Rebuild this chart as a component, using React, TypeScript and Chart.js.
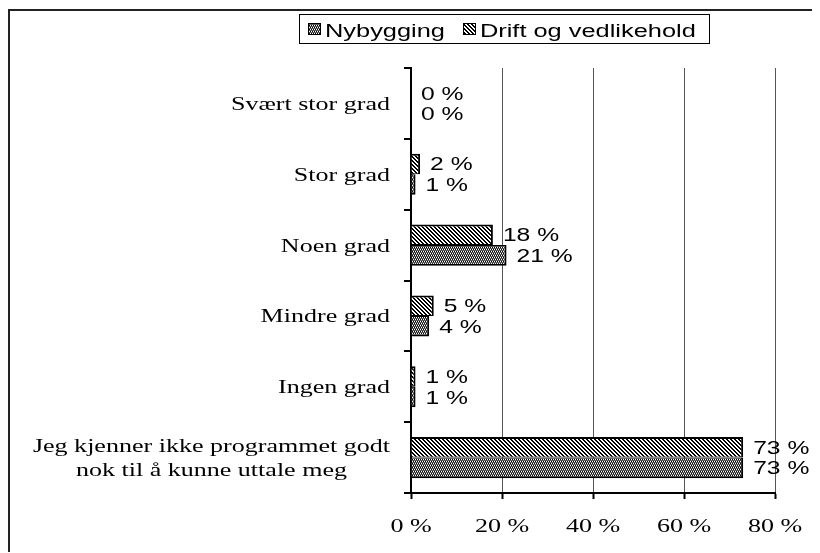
import { useEffect, useRef } from "react";
import { Chart, registerables } from "chart.js";

Chart.register(...registerables);

const categories: (string | string[])[] = [
  "Svært stor grad",
  "Stor grad",
  "Noen grad",
  "Mindre grad",
  "Ingen grad",
  ["Jeg kjenner ikke programmet godt", "nok til å kunne uttale meg"],
];
const nybyggingValues = [0, 1, 21, 4, 1, 73];
const driftValues = [0, 2, 18, 5, 1, 73];
const xTickValues = [0, 20, 40, 60, 80];
const seriesNames = ["Nybygging", "Drift og vedlikehold"];

const SX = 1.37;
const SX_LEGEND = 1.41;
const SANS = "18px 'Liberation Sans', Arial, sans-serif";
const SERIF = "19px 'Liberation Serif', 'Times New Roman', serif";

function makePattern(kind: "dots" | "hatch"): CanvasPattern | string {
  const c = document.createElement("canvas");
  c.width = 4;
  c.height = 4;
  const g = c.getContext("2d");
  if (!g) return "#777";
  g.fillStyle = "#fff";
  g.fillRect(0, 0, 4, 4);
  for (let y = 0; y < 4; y++) {
    for (let x = 0; x < 4; x++) {
      if (kind === "hatch") {
        const m = (((x - y) % 4) + 4) % 4;
        if (m === 0 || m === 1) {
          g.fillStyle = "#000";
          g.fillRect(x, y, 1, 1);
        }
      } else {
        if (y % 2 === 1) {
          g.fillStyle = "#5a5a5a";
          g.fillRect(x, y, 1, 1);
        } else if ((x + y / 2) % 2 === 0) {
          g.fillStyle = "#000";
          g.fillRect(x, y, 1, 1);
        }
      }
    }
  }
  const ctx = document.createElement("canvas").getContext("2d");
  const p = ctx ? ctx.createPattern(c, "repeat") : null;
  return p || "#777";
}

function drawText(
  ctx: CanvasRenderingContext2D,
  text: string,
  x: number,
  y: number,
  align: CanvasTextAlign,
  sx: number = SX
) {
  ctx.save();
  ctx.translate(x, y);
  ctx.scale(sx, 1);
  ctx.textAlign = align;
  ctx.textBaseline = "alphabetic";
  ctx.fillText(text, 0, 0);
  ctx.restore();
}

function textW(ctx: CanvasRenderingContext2D, text: string, sx: number = SX) {
  return ctx.measureText(text).width * sx;
}

export default function App() {
  const ref = useRef<HTMLCanvasElement | null>(null);

  useEffect(() => {
    const canvas = ref.current;
    if (!canvas) return;
    const dotPattern = makePattern("dots");
    const hatchPattern = makePattern("hatch");

    const textPlugin = {
      id: "customText",
      afterDatasetsDraw(chart: any) {
        const ctx: CanvasRenderingContext2D = chart.ctx;
        ctx.save();
        ctx.font = SANS;
        ctx.fillStyle = "#000";
        chart.data.datasets.forEach((ds: any, i: number) => {
          const meta = chart.getDatasetMeta(i);
          meta.data.forEach((el: any, j: number) => {
            const v = ds.data[j];
            drawText(ctx, `${v} %`, el.x + 10, el.y + 6.5, "left");
          });
        });
        ctx.restore();
      },
      afterDraw(chart: any) {
        const ctx: CanvasRenderingContext2D = chart.ctx;
        const area = chart.chartArea;
        const yScale = chart.scales.y;
        const xScale = chart.scales.x;
        ctx.save();
        ctx.fillStyle = "#000";
        // category labels
        ctx.font = SERIF;
        const rightX = area.left - 21;
        categories.forEach((lab, i) => {
          const lines = Array.isArray(lab) ? lab : [lab];
          const maxW = Math.max(...lines.map((l) => textW(ctx, l)));
          const cy = yScale.getPixelForValue(i);
          lines.forEach((l, k) => {
            const by = cy + 6.5 + (k - (lines.length - 1) / 2) * 24;
            drawText(ctx, l, rightX - maxW / 2, by, "center");
          });
        });
        // x tick labels
        xTickValues.forEach((v) => {
          const x = xScale.getPixelForValue(v);
          drawText(ctx, `${v} %`, x, area.bottom + 39, "center");
        });
        // legend
        ctx.font = SANS;
        const sq = 13;
        const padL = 9;
        const gap = 4;
        const between = 18;
        const padR = 13;
        const w0 = textW(ctx, seriesNames[0], SX_LEGEND);
        const w1 = textW(ctx, seriesNames[1], SX_LEGEND);
        const total = padL + sq + gap + w0 + between + sq + gap + w1 + padR;
        const cx = area.left + 92.5;
        const boxL = Math.round(cx - total / 2) + 0.5;
        const boxT = 3.5;
        const boxH = 29;
        ctx.strokeStyle = "#000";
        ctx.lineWidth = 1;
        ctx.strokeRect(boxL, boxT, Math.round(total), boxH);
        const fills = [dotPattern, hatchPattern];
        let x = boxL - 0.5 + padL;
        [w0, w1].forEach((w, i) => {
          ctx.fillStyle = fills[i] as any;
          ctx.fillRect(Math.round(x), 12, sq, 12);
          ctx.strokeStyle = "#000";
          ctx.strokeRect(Math.round(x) + 0.5, 12.5, sq - 1, 11);
          x += sq + gap;
          ctx.fillStyle = "#000";
          drawText(ctx, seriesNames[i], x, 25.5, "left", SX_LEGEND);
          x += w + between;
        });
        ctx.restore();
      },
    };

    const chart = new Chart(canvas, {
      type: "bar",
      data: {
        labels: categories as any,
        datasets: [
          {
            label: seriesNames[1],
            data: driftValues,
            backgroundColor: hatchPattern as any,
            borderColor: "#000",
            borderWidth: { top: 2, right: 2, bottom: 1, left: 0 } as any,
            borderSkipped: false as any,
            categoryPercentage: 0.58,
            barPercentage: 1.0,
          },
          {
            label: seriesNames[0],
            data: nybyggingValues,
            backgroundColor: dotPattern as any,
            borderColor: "#000",
            borderWidth: { top: 1, right: 2, bottom: 2, left: 0 } as any,
            borderSkipped: false as any,
            categoryPercentage: 0.58,
            barPercentage: 1.0,
          },
        ],
      },
      options: {
        indexAxis: "y",
        responsive: false,
        animation: false,
        devicePixelRatio: 1,
        layout: { padding: { top: 57, right: 45, bottom: 0, left: 0 } },
        plugins: {
          legend: { display: false },
          tooltip: { enabled: false },
        },
        scales: {
          x: {
            type: "linear",
            min: 0,
            max: 80,
            ticks: { display: false, stepSize: 20 },
            grid: {
              color: "#555",
              lineWidth: 1,
              drawTicks: true,
              tickLength: 6,
              tickColor: "#000",
              tickWidth: 2,
            },
            border: { display: true, color: "#000", width: 2 },
            afterFit: (s: any) => {
              s.height = 60;
            },
          },
          y: {
            type: "category",
            ticks: { display: false },
            grid: {
              offset: true,
              drawOnChartArea: false,
              drawTicks: true,
              tickLength: 7,
              color: "#000",
              lineWidth: 2,
            },
            border: { display: true, color: "#000", width: 2 },
            afterFit: (s: any) => {
              s.width = 401;
            },
          },
        },
      },
      plugins: [textPlugin],
    } as any);

    return () => chart.destroy();
  }, []);

  return (
    <div
      style={{
        position: "relative",
        top: 1,
        borderLeft: "2px solid #222",
        borderTop: "2px solid #222",
        width: 810,
        height: 542,
      }}
    >
      <canvas ref={ref} width={810} height={542} style={{ display: "block" }} />
    </div>
  );
}
